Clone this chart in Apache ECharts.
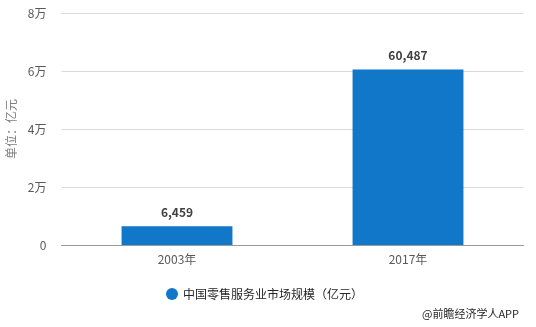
<!DOCTYPE html>
<html><head><meta charset="utf-8">
<script src="https://cdn.jsdelivr.net/npm/echarts@6/dist/echarts.min.js"></script>
<style>html,body{margin:0;padding:0;background:#fff}#c{width:536px;height:327px}</style>
</head><body><div id="c"></div>
<script>
const categories = ['2003年', '2017年'];
const values = [6459, 60487];
const yTicks = ['0', '2万', '4万', '6万', '8万'];
const seriesName = '中国零售服务业市场规模（亿元）';
const yName = '单位：亿元';
const source = '@前瞻经济学人APP';

const chart = echarts.init(document.getElementById('c'));
const font = '"Microsoft YaHei","Noto Sans CJK SC",sans-serif';
chart.setOption({
  animation: false,
  textStyle: {fontFamily: font},
  grid: {left: 61.5, right: 12.5, top: 13, bottom: 82, outerBoundsMode: 'none'},
  legend: {
    data: [{name: seriesName, icon: 'circle'}],
    left: 161, top: 283, itemWidth: 12, itemHeight: 12, itemGap: 6,
    textStyle: {fontSize: 12, color: '#262626', fontFamily: font}
  },
  graphic: [{
    type: 'text', right: 17, top: 308,
    style: {text: source, fontSize: 11, fill: '#262626', fontFamily: font}
  }],
  xAxis: {
    type: 'category', data: categories,
    axisLine: {lineStyle: {color: '#999'}},
    axisTick: {alignWithLabel: true, length: 5, lineStyle: {color: '#999'}},
    axisLabel: {color: '#595959', fontSize: 12, margin: 8, fontFamily: font}
  },
  yAxis: {
    type: 'value', min: 0, max: 80000, interval: 20000,
    name: yName, nameLocation: 'middle', nameGap: 40, nameRotate: 90,
    nameTextStyle: {color: '#7f7f7f', fontSize: 12, fontFamily: font},
    axisLine: {show: false}, axisTick: {show: false},
    splitLine: {lineStyle: {color: '#d9d9d9'}},
    axisLabel: {
      color: '#595959', fontSize: 12, margin: 15, fontFamily: font,
      formatter: v => yTicks[Math.round(v / 20000)]
    }
  },
  series: [{
    name: seriesName, type: 'bar', data: values, barWidth: '48%',
    itemStyle: {color: '#1177c8'},
    label: {
      show: true, position: 'top', distance: 8, color: '#404040', fontSize: 12, fontWeight: 'bold',
      fontFamily: font,
      formatter: p => p.value.toLocaleString('en-US')
    }
  }]
});
</script></body></html>
